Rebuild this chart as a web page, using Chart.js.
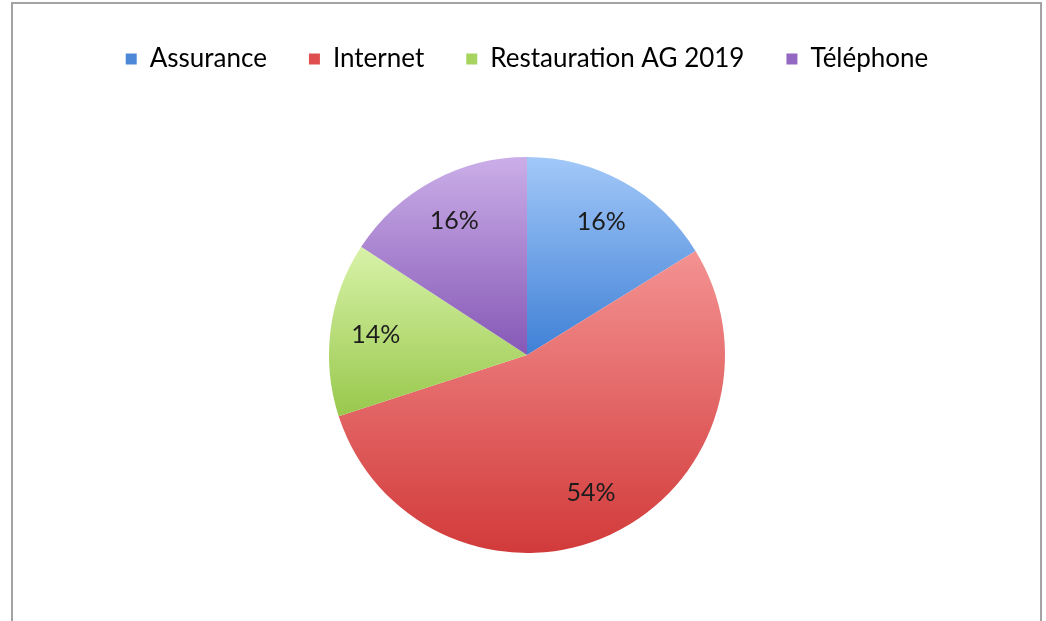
<!DOCTYPE html>
<html>
<head>
<meta charset="utf-8">
<script src="https://cdn.jsdelivr.net/npm/chart.js@4.4.0/dist/chart.umd.min.js"></script>
<style>
  body { margin: 0; background: #fff; overflow: hidden; }
  #cadre { position: absolute; left: 11px; top: 2px; width: 1031px; height: 640px; border: 2px solid #a3a3a3; box-sizing: border-box; }
  #wrap { position: absolute; left: 0; top: 0; width: 1046px; height: 628px; }
</style>
</head>
<body>
<div id="cadre"></div>
<div id="wrap"><canvas id="graphique"></canvas></div>
<script>
// donnees
const categories = ['Assurance', 'Internet', 'Restauration AG 2019', 'Téléphone'];
const valeurs = [16.2, 53.8, 14.2, 15.8];
const etiquettes = ['16%', '54%', '14%', '16%'];

// couleurs : haut clair -> bas fonce
const cor_haut = ['#a2c8f8', '#f49292', '#d8f2a8', '#cbaee8'];
const cor_bas = ['#3f80d6', '#d23a3a', '#98c84c', '#8558b6'];
const cor_legenda = ['#4d88d8', '#df4f4f', '#a6d45e', '#9268c2'];

const fonte = 'Lato, "Open Sans", sans-serif';
const raio = 198;

function gradiente(context) {
    const chart = context.chart;
    const area = chart.chartArea;
    const i = context.dataIndex;
    if (!area) return cor_bas[i];
    const cx = (area.left + area.right) / 2;
    const cy = (area.top + area.bottom) / 2;
    const r = raio;
    const total = valeurs.reduce((a, b) => a + b, 0);
    let soma = 0;
    for (let k = 0; k < i; k++) soma += valeurs[k];
    // angulo a partir do topo, sentido horario
    const a0 = soma / total * 2 * Math.PI;
    const a1 = (soma + valeurs[i]) / total * 2 * Math.PI;
    let ys = [cy, cy - r * Math.cos(a0), cy - r * Math.cos(a1)];
    if (a0 <= 0 && a1 >= 0) ys.push(cy - r);
    if (a0 <= Math.PI && a1 >= Math.PI) ys.push(cy + r);
    const y0 = Math.min(...ys);
    const y1 = Math.max(...ys);
    const g = chart.ctx.createLinearGradient(0, y0, 0, y1);
    g.addColorStop(0, cor_haut[i]);
    g.addColorStop(1, cor_bas[i]);
    return g;
}

const rotulos = {
    id: 'rotulos',
    afterDatasetsDraw(chart) {
        const ctx = chart.ctx;
        const meta = chart.getDatasetMeta(0);
        ctx.save();
        ctx.font = '25px ' + fonte;
        ctx.fillStyle = '#1c1c1c';
        ctx.textAlign = 'center';
        ctx.textBaseline = 'middle';
        meta.data.forEach(function(arc, i) {
            const p = arc.getProps(['x', 'y', 'startAngle', 'endAngle', 'outerRadius'], true);
            const meio = (p.startAngle + p.endAngle) / 2;
            const d = p.outerRadius * 0.77;
            ctx.fillText(etiquettes[i], p.x + Math.cos(meio) * d, p.y + Math.sin(meio) * d);
        });
        ctx.restore();
    }
};

const ctx = document.getElementById('graphique').getContext('2d');
const grafico = new Chart(ctx, {
    type: 'pie',
    data: {
        labels: categories,
        datasets: [{
            data: valeurs,
            backgroundColor: gradiente,
            borderWidth: 0,
            radius: raio
        }]
    },
    options: {
        responsive: true,
        maintainAspectRatio: false,
        animation: false,
        layout: { padding: { top: 4, bottom: 0, left: 8, right: 0 } },
        plugins: {
            tooltip: { enabled: false },
            legend: {
                position: 'top',
                labels: {
                    font: { family: fonte, size: 26 },
                    color: '#111',
                    boxWidth: 11,
                    boxHeight: 11,
                    padding: 42,
                    generateLabels: function(chart) {
                        return categories.map(function(c, i) {
                            return { text: c, fillStyle: cor_legenda[i], strokeStyle: cor_legenda[i], lineWidth: 0, index: i, hidden: false };
                        });
                    }
                }
            }
        }
    },
    plugins: [rotulos]
});
</script>
</body>
</html>
